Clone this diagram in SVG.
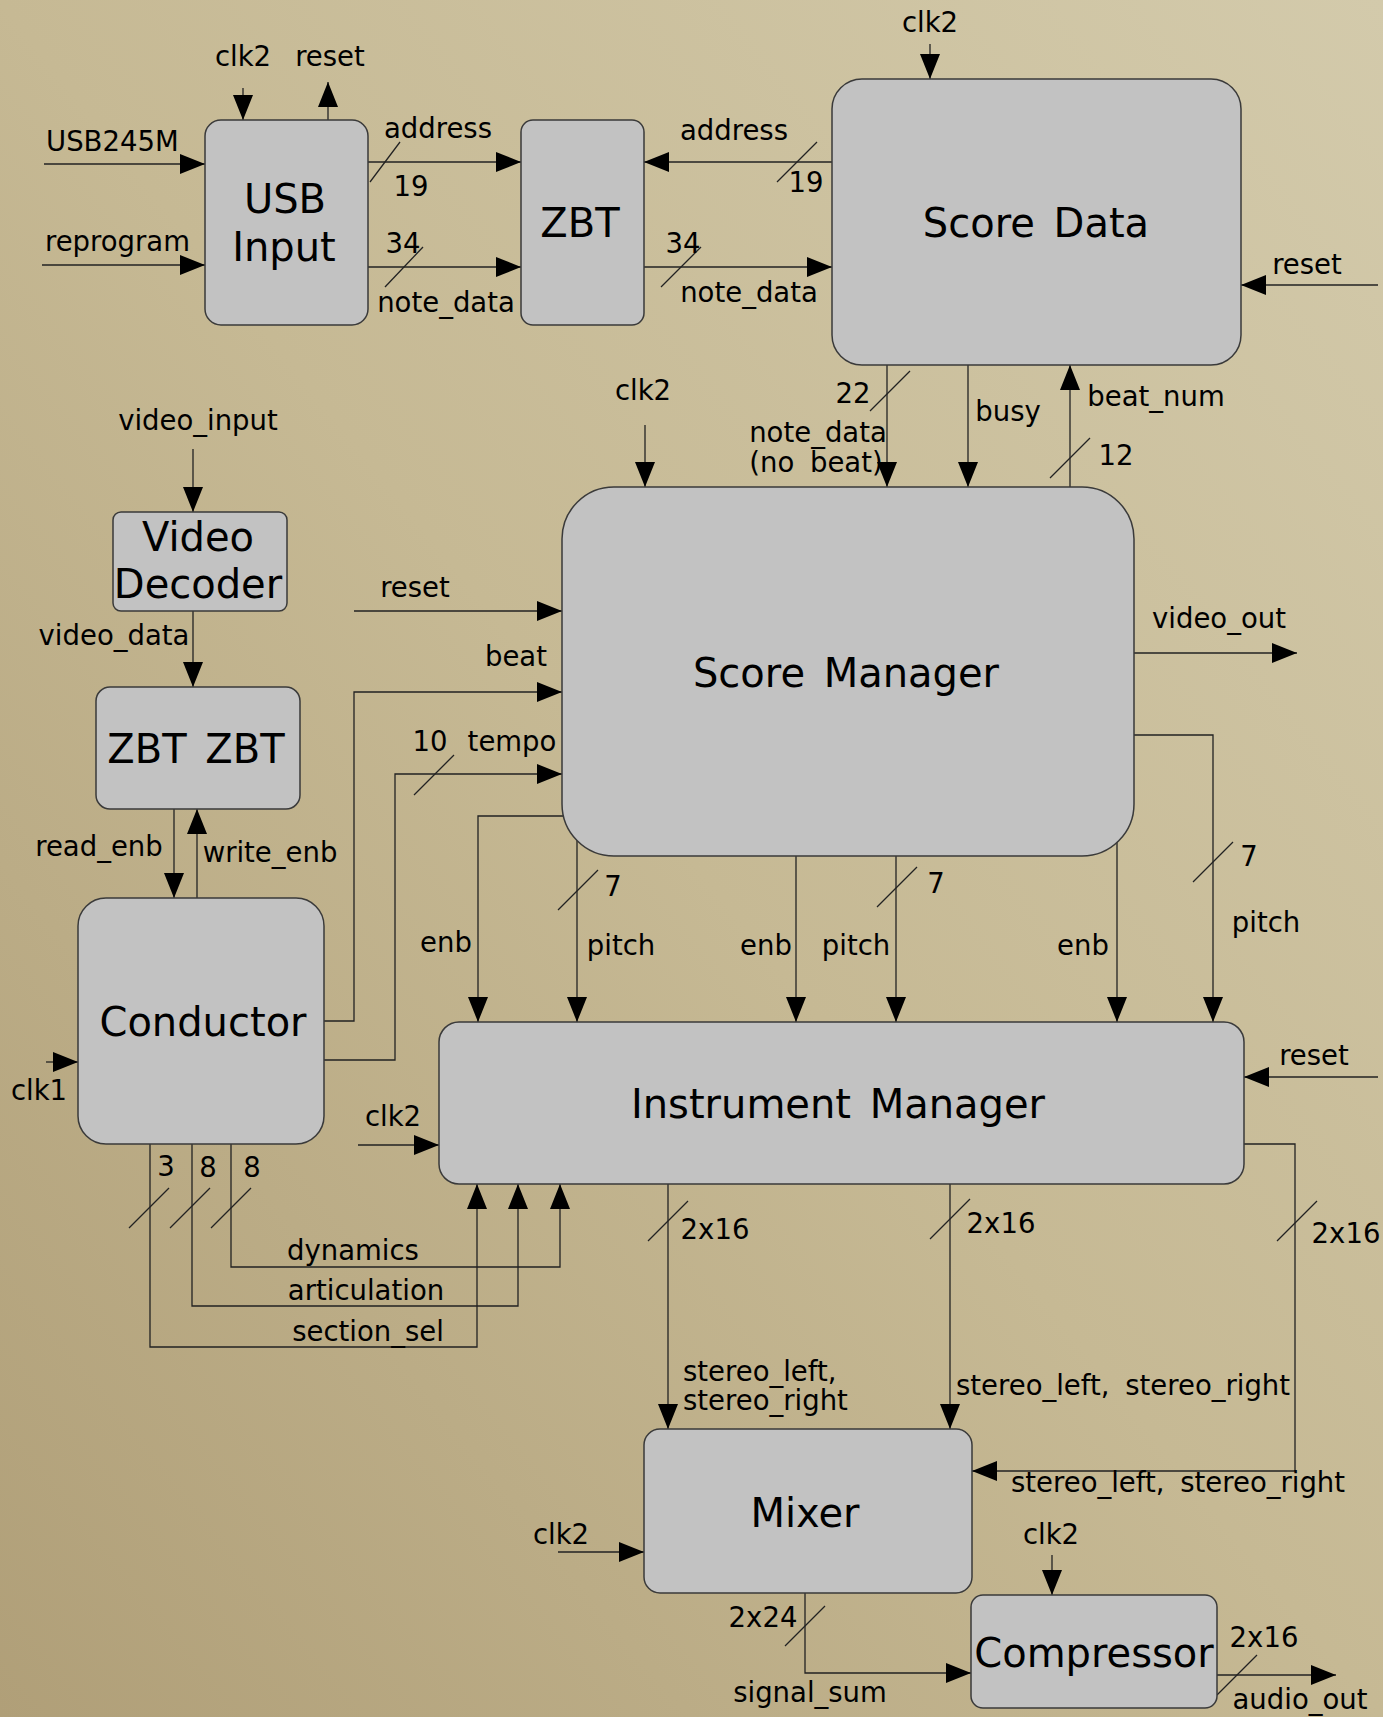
<svg xmlns="http://www.w3.org/2000/svg" width="1383" height="1717" viewBox="0 0 1383 1717">
<defs>
<linearGradient id="bg" x1="1" y1="0" x2="0" y2="1">
<stop offset="0" stop-color="#d3caab"/>
<stop offset="0.5" stop-color="#c6b994"/>
<stop offset="1" stop-color="#b09f78"/>
</linearGradient>
<marker id="ah" markerUnits="userSpaceOnUse" markerWidth="26" markerHeight="20" refX="25" refY="10" orient="auto">
<path d="M0,0 L25,10 L0,20 z" fill="#000"/>
</marker>
<style>
.node rect{fill:#c2c2c2;stroke:#3a3a3a;stroke-width:1.5}
.title{font-family:"DejaVu Sans",sans-serif;font-size:40px;fill:#000;text-anchor:middle;word-spacing:6px}
.lbl{font-family:"DejaVu Sans",sans-serif;font-size:27.5px;fill:#000;word-spacing:7px}
.m{text-anchor:middle}
.w{fill:none;stroke:#222;stroke-width:1.3}
.a{marker-end:url(#ah)}
</style>
</defs>
<rect width="1383" height="1717" fill="url(#bg)"/>

<g id="connectors">
<!-- USB Input inputs -->
<path class="w a" d="M44,164 H205"/>
<path class="w a" d="M42,265 H205"/>
<path class="w a" d="M243,88 V120"/>
<path class="w a" d="M328,120 V82"/>
<!-- USB -> ZBT -->
<path class="w a" d="M368,162 H521"/>
<path class="w" d="M370,182 L400,142"/>
<path class="w a" d="M368,267 H521"/>
<path class="w" d="M385,287 L423,247"/>
<!-- Score Data <-> ZBT -->
<path class="w a" d="M832,162 H644"/>
<path class="w" d="M777,182 L817,142"/>
<path class="w a" d="M644,267 H832"/>
<path class="w" d="M661,287 L701,247"/>
<path class="w a" d="M930,44 V79"/>
<path class="w a" d="M1378,285 H1241"/>
<!-- Score Data <-> Score Manager -->
<path class="w a" d="M887,365 V487"/>
<path class="w" d="M870,411 L910,371"/>
<path class="w a" d="M968,365 V487"/>
<path class="w a" d="M1070,487 V365"/>
<path class="w" d="M1050,478 L1090,438"/>
<path class="w a" d="M645,425 V487"/>
<!-- Video path -->
<path class="w a" d="M193,449 V512"/>
<path class="w a" d="M193,611 V687"/>
<path class="w a" d="M174,809 V898"/>
<path class="w a" d="M197,898 V809"/>
<path class="w a" d="M46,1062 H78"/>
<!-- into Score Manager -->
<path class="w a" d="M354,611 H562"/>
<path class="w a" d="M324,1021 H354 V692 H562"/>
<path class="w a" d="M324,1060 H395 V774 H562"/>
<path class="w" d="M414,795 L454,755"/>
<path class="w a" d="M1134,653 H1297"/>
<!-- Score Manager -> Instrument Manager -->
<path class="w a" d="M566,816 H478 V1022"/>
<path class="w a" d="M577,840 V1022"/>
<path class="w" d="M558,910 L598,870"/>
<path class="w a" d="M796,856 V1022"/>
<path class="w a" d="M896,856 V1022"/>
<path class="w" d="M877,907 L917,867"/>
<path class="w a" d="M1117,842 V1022"/>
<path class="w a" d="M1134,735 H1213 V1022"/>
<path class="w" d="M1193,882 L1233,842"/>
<path class="w a" d="M1378,1077 H1244"/>
<path class="w a" d="M358,1145 H439"/>
<!-- Conductor -> Instrument Manager -->
<path class="w a" d="M231,1144 V1267 H560 V1184"/>
<path class="w" d="M211,1228 L251,1188"/>
<path class="w a" d="M192,1144 V1306 H518 V1184"/>
<path class="w" d="M170,1228 L210,1188"/>
<path class="w a" d="M150,1144 V1347 H477 V1184"/>
<path class="w" d="M129,1228 L169,1188"/>
<!-- Instrument Manager -> Mixer -->
<path class="w a" d="M668,1184 V1429"/>
<path class="w" d="M648,1241 L688,1201"/>
<path class="w a" d="M950,1184 V1429"/>
<path class="w" d="M930,1239 L970,1199"/>
<path class="w a" d="M1244,1144 H1295 V1471 H972"/>
<path class="w" d="M1277,1241 L1317,1201"/>
<path class="w a" d="M558,1552 H644"/>
<!-- Mixer -> Compressor -> out -->
<path class="w a" d="M805,1593 V1673 H971"/>
<path class="w" d="M785,1646 L825,1606"/>
<path class="w a" d="M1052,1555 V1595"/>
<path class="w a" d="M1217,1675 H1336"/>
<path class="w" d="M1217,1695 L1257,1655"/>
</g>

<g id="labels">
<text class="lbl" x="46" y="151">USB245M</text>
<text class="lbl" x="45" y="251">reprogram</text>
<text class="lbl m" x="243" y="66">clk2</text>
<text class="lbl m" x="330" y="66">reset</text>
<text class="lbl m" x="438" y="138">address</text>
<text class="lbl m" x="411" y="196">19</text>
<text class="lbl m" x="403" y="253">34</text>
<text class="lbl m" x="446" y="312">note_data</text>
<text class="lbl m" x="734" y="140">address</text>
<text class="lbl m" x="806" y="192">19</text>
<text class="lbl m" x="683" y="253">34</text>
<text class="lbl m" x="749" y="302">note_data</text>
<text class="lbl m" x="930" y="32">clk2</text>
<text class="lbl m" x="1307" y="274">reset</text>
<text class="lbl m" x="853" y="403">22</text>
<text class="lbl m" x="818" y="442">note_data</text>
<text class="lbl m" x="816" y="472">(no beat)</text>
<text class="lbl m" x="1008" y="421">busy</text>
<text class="lbl m" x="1156" y="406">beat_num</text>
<text class="lbl m" x="1116" y="465">12</text>
<text class="lbl m" x="643" y="400">clk2</text>
<text class="lbl m" x="198" y="430">video_input</text>
<text class="lbl m" x="114" y="645">video_data</text>
<text class="lbl m" x="99" y="856">read_enb</text>
<text class="lbl m" x="270" y="862">write_enb</text>
<text class="lbl m" x="39" y="1100">clk1</text>
<text class="lbl m" x="415" y="597">reset</text>
<text class="lbl m" x="516" y="666">beat</text>
<text class="lbl m" x="430" y="751">10</text>
<text class="lbl m" x="512" y="751">tempo</text>
<text class="lbl m" x="1219" y="628">video_out</text>
<text class="lbl m" x="446" y="952">enb</text>
<text class="lbl m" x="613" y="896">7</text>
<text class="lbl m" x="621" y="955">pitch</text>
<text class="lbl m" x="766" y="955">enb</text>
<text class="lbl m" x="936" y="893">7</text>
<text class="lbl m" x="856" y="955">pitch</text>
<text class="lbl m" x="1083" y="955">enb</text>
<text class="lbl m" x="1249" y="866">7</text>
<text class="lbl m" x="1266" y="932">pitch</text>
<text class="lbl m" x="1314" y="1065">reset</text>
<text class="lbl m" x="393" y="1126">clk2</text>
<text class="lbl m" x="166" y="1176">3</text>
<text class="lbl m" x="208" y="1177">8</text>
<text class="lbl m" x="252" y="1177">8</text>
<text class="lbl m" x="353" y="1260">dynamics</text>
<text class="lbl m" x="366" y="1300">articulation</text>
<text class="lbl m" x="368" y="1341">section_sel</text>
<text class="lbl m" x="715" y="1239">2x16</text>
<text class="lbl" x="683" y="1381">stereo_left,</text>
<text class="lbl" x="683" y="1410">stereo_right</text>
<text class="lbl m" x="1001" y="1233">2x16</text>
<text class="lbl" x="956" y="1395">stereo_left, stereo_right</text>
<text class="lbl m" x="1346" y="1243">2x16</text>
<text class="lbl" x="1011" y="1492">stereo_left, stereo_right</text>
<text class="lbl m" x="561" y="1544">clk2</text>
<text class="lbl m" x="763" y="1627">2x24</text>
<text class="lbl m" x="810" y="1702">signal_sum</text>
<text class="lbl m" x="1051" y="1544">clk2</text>
<text class="lbl m" x="1264" y="1647">2x16</text>
<text class="lbl m" x="1300" y="1709">audio_out</text>
</g>

<g id="usb-input" class="node"><rect x="205" y="120" width="163" height="205" rx="16"/><text class="title" x="285" y="213">USB</text><text class="title" x="284" y="261">Input</text></g>
<g id="zbt" class="node"><rect x="521" y="120" width="123" height="205" rx="12"/><text class="title" x="580" y="237">ZBT</text></g>
<g id="score-data" class="node"><rect x="832" y="79" width="409" height="286" rx="30"/><text class="title" x="1036" y="237">Score Data</text></g>
<g id="video-decoder" class="node"><rect x="113" y="512" width="174" height="99" rx="8"/><text class="title" x="198" y="551">Video</text><text class="title" x="198" y="598">Decoder</text></g>
<g id="zbt-zbt" class="node"><rect x="96" y="687" width="204" height="122" rx="14"/><text class="title" x="196" y="763">ZBT ZBT</text></g>
<g id="conductor" class="node"><rect x="78" y="898" width="246" height="246" rx="28"/><text class="title" x="203" y="1036">Conductor</text></g>
<g id="score-manager" class="node"><rect x="562" y="487" width="572" height="369" rx="52"/><text class="title" x="846" y="687">Score Manager</text></g>
<g id="instrument-manager" class="node"><rect x="439" y="1022" width="805" height="162" rx="20"/><text class="title" x="838" y="1118">Instrument Manager</text></g>
<g id="mixer" class="node"><rect x="644" y="1429" width="328" height="164" rx="16"/><text class="title" x="805" y="1527">Mixer</text></g>
<g id="compressor" class="node"><rect x="971" y="1595" width="246" height="113" rx="12"/><text class="title" x="1094" y="1667">Compressor</text></g>
</svg>
